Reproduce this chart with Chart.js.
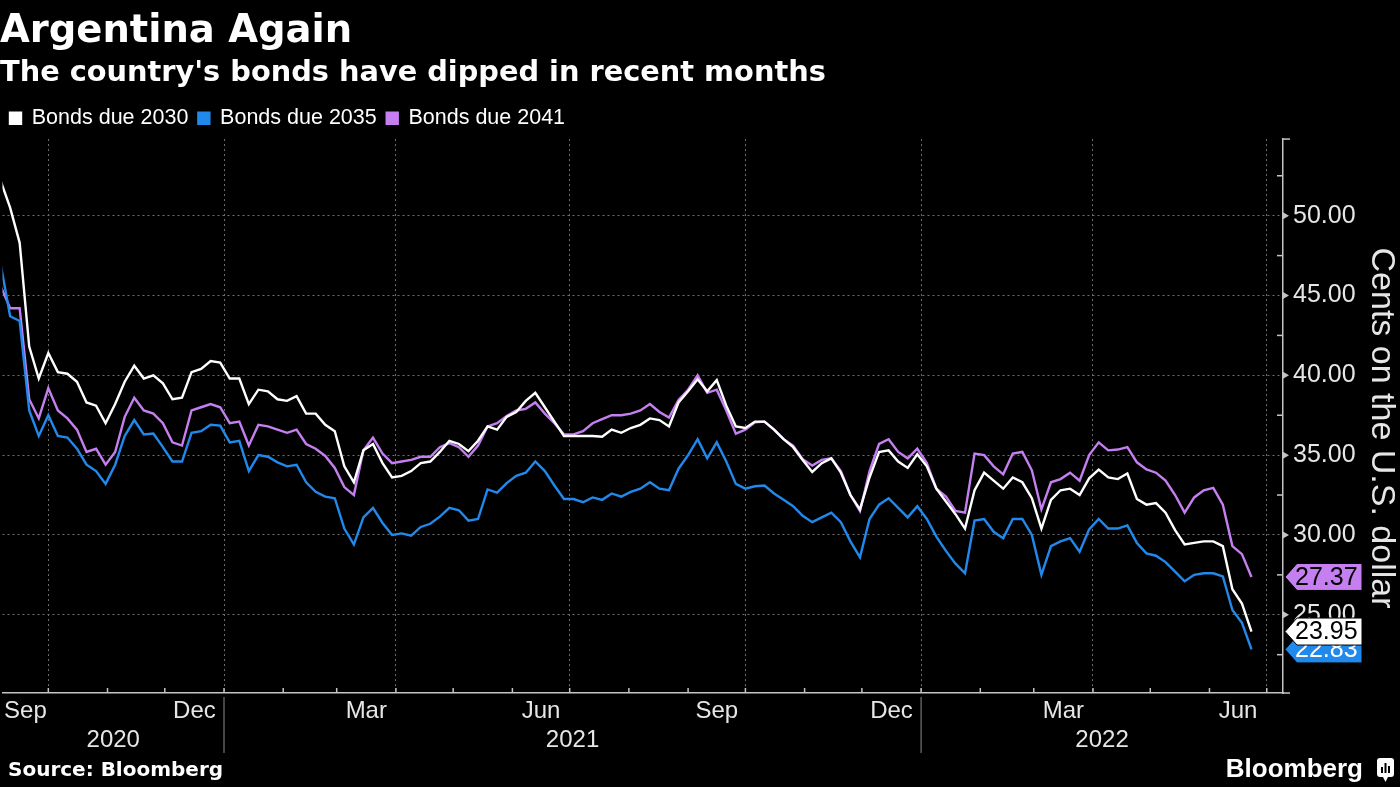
<!DOCTYPE html>
<html>
<head>
<meta charset="utf-8">
<title>Argentina Again</title>
<script src="https://cdn.jsdelivr.net/npm/chart.js@4.4.1/dist/chart.umd.min.js"></script>
<style>
  html, body { margin: 0; padding: 0; background: #000; }
  #wrap { width: 1400px; height: 787px; }
</style>
</head>
<body>
<div id="wrap"><canvas id="bonds" width="1400" height="787"></canvas></div>
<script>
const dates = [
  '2020-09-06','2020-09-11','2020-09-16','2020-09-21','2020-09-26',
  '2020-10-01','2020-10-06','2020-10-11','2020-10-16','2020-10-21','2020-10-26','2020-10-31',
  '2020-11-05','2020-11-10','2020-11-15','2020-11-20','2020-11-25','2020-11-30',
  '2020-12-05','2020-12-10','2020-12-15','2020-12-20','2020-12-25','2020-12-30',
  '2021-01-04','2021-01-09','2021-01-14','2021-01-19','2021-01-24','2021-01-29',
  '2021-02-03','2021-02-08','2021-02-13','2021-02-18','2021-02-23','2021-02-28',
  '2021-03-05','2021-03-10','2021-03-15','2021-03-20','2021-03-25','2021-03-30',
  '2021-04-04','2021-04-09','2021-04-14','2021-04-19','2021-04-24','2021-04-29',
  '2021-05-04','2021-05-09','2021-05-14','2021-05-19','2021-05-24','2021-05-29',
  '2021-06-03','2021-06-08','2021-06-13','2021-06-18','2021-06-23','2021-06-28',
  '2021-07-03','2021-07-08','2021-07-13','2021-07-18','2021-07-23','2021-07-28',
  '2021-08-02','2021-08-07','2021-08-12','2021-08-17','2021-08-22','2021-08-27',
  '2021-09-01','2021-09-06','2021-09-11','2021-09-16','2021-09-21','2021-09-26',
  '2021-10-01','2021-10-06','2021-10-11','2021-10-16','2021-10-21','2021-10-26','2021-10-31',
  '2021-11-05','2021-11-10','2021-11-15','2021-11-20','2021-11-25','2021-11-30',
  '2021-12-05','2021-12-10','2021-12-15','2021-12-20','2021-12-25','2021-12-30',
  '2022-01-04','2022-01-09','2022-01-14','2022-01-19','2022-01-24','2022-01-29',
  '2022-02-03','2022-02-08','2022-02-13','2022-02-18','2022-02-23','2022-02-28',
  '2022-03-05','2022-03-10','2022-03-15','2022-03-20','2022-03-25','2022-03-30',
  '2022-04-04','2022-04-09','2022-04-14','2022-04-19','2022-04-24','2022-04-29',
  '2022-05-04','2022-05-09','2022-05-14','2022-05-19','2022-05-24','2022-05-29',
  '2022-06-03','2022-06-08','2022-06-13','2022-06-18','2022-06-23'
];

const bonds2030 = [
  52.2, 50.5, 48.3, 41.8, 39.8, 41.4, 40.2, 40.1, 39.6, 38.3, 38.1, 37.0,
  38.2, 39.6, 40.6, 39.8, 40.0, 39.5, 38.5, 38.6, 40.2, 40.4, 40.9, 40.8,
  39.8, 39.8, 38.2, 39.1, 39.0, 38.5, 38.4, 38.7, 37.6, 37.6, 36.9, 36.5,
  34.3, 33.3, 35.3, 35.7, 34.5, 33.6, 33.7, 34.0, 34.5, 34.6, 35.2, 35.9,
  35.7, 35.25, 35.9, 36.8, 36.6, 37.4, 37.7, 38.4, 38.9, 38.0, 37.1, 36.2,
  36.2, 36.2, 36.2, 36.15, 36.6, 36.4, 36.7, 36.9, 37.3, 37.2, 36.8, 38.3,
  39.0, 39.75, 39.0, 39.7, 38.1, 36.8, 36.7, 37.1, 37.1, 36.6, 36.0, 35.5,
  34.7, 33.95, 34.5, 34.8, 33.9, 32.5, 31.6, 33.6, 35.2, 35.3, 34.6, 34.2,
  35.05, 34.3, 32.9, 32.1, 31.3, 30.4, 32.8, 33.9, 33.4, 32.9, 33.6, 33.3,
  32.3, 30.4, 32.2, 32.8, 32.9, 32.5, 33.55, 34.1, 33.6, 33.5, 33.85, 32.25,
  31.9, 32.0, 31.4, 30.3, 29.4, 29.5, 29.6, 29.6, 29.3, 26.6, 25.7, 23.95
];

const bonds2035 = [
  47.0, 43.7, 43.4, 37.8, 36.2, 37.5, 36.2, 36.1, 35.4, 34.4, 34.0, 33.2,
  34.4, 36.2, 37.2, 36.3, 36.35, 35.5, 34.6, 34.6, 36.4, 36.5, 36.9, 36.85,
  35.8, 35.9, 34.0, 35.0, 34.9, 34.55, 34.3, 34.4, 33.3, 32.7, 32.4, 32.3,
  30.4, 29.4, 31.1, 31.7, 30.75, 30.0, 30.1, 29.95, 30.5, 30.7, 31.15, 31.7,
  31.55, 30.9, 31.0, 32.85, 32.65, 33.25, 33.7, 33.9, 34.6, 34.0, 33.1, 32.25,
  32.25, 32.05, 32.35, 32.2, 32.6, 32.4, 32.7, 32.9, 33.3, 32.9, 32.8, 34.15,
  35.0, 36.0, 34.8, 35.8, 34.6, 33.2, 32.9, 33.05, 33.1, 32.6, 32.2, 31.8,
  31.2, 30.8, 31.1, 31.4, 30.8, 29.6, 28.6, 31.0, 31.9, 32.3, 31.7, 31.1,
  31.8, 31.0, 29.9, 29.0, 28.2, 27.6, 30.9, 31.0, 30.2, 29.8, 31.0, 31.0,
  30.0, 27.5, 29.3, 29.6, 29.8, 28.95, 30.35, 31.0, 30.4, 30.4, 30.6, 29.5,
  28.85, 28.7, 28.3, 27.7, 27.1, 27.5, 27.6, 27.6, 27.4, 25.3, 24.5, 22.83
];

const bonds2041 = [
  45.6, 44.2, 44.2, 38.5, 37.3, 39.2, 37.8, 37.3, 36.6, 35.2, 35.4, 34.4,
  35.2, 37.4, 38.6, 37.8, 37.6, 37.0, 35.8, 35.6, 37.8, 38.0, 38.2, 38.0,
  37.0, 37.1, 35.6, 36.9, 36.8, 36.6, 36.4, 36.6, 35.7, 35.4, 34.95, 34.2,
  33.0, 32.5, 35.3, 36.1, 35.1, 34.5, 34.6, 34.7, 34.9, 34.9, 35.5, 35.75,
  35.5, 34.9, 35.6, 36.8, 37.0, 37.45, 37.8, 37.9, 38.3, 37.6, 37.0, 36.3,
  36.3, 36.5, 37.0, 37.25, 37.5, 37.5, 37.6, 37.8, 38.2, 37.7, 37.35, 38.45,
  39.1, 40.0, 38.9, 39.1, 37.8, 36.35, 36.6, 37.05, 37.1, 36.6, 36.0, 35.6,
  34.75, 34.35, 34.7, 34.8, 34.0, 32.5, 31.5, 34.0, 35.7, 36.0, 35.2, 34.8,
  35.4, 34.5, 32.9, 32.4, 31.5, 31.4, 35.1, 35.0, 34.3, 33.8, 35.1, 35.2,
  34.05, 31.6, 33.3, 33.5, 33.9, 33.4, 35.0, 35.8, 35.3, 35.35, 35.5, 34.55,
  34.1, 33.9, 33.4, 32.5, 31.4, 32.35, 32.8, 32.95, 31.9, 29.3, 28.8, 27.37
];

const seriesNames = ['Bonds due 2030', 'Bonds due 2035', 'Bonds due 2041'];
const seriesColors = ['#ffffff', '#2189eb', '#c57ff0'];
const yTicks = [22.5, 25, 27.5, 30, 32.5, 35, 37.5, 40, 42.5, 45, 47.5, 50, 52.5];
const monthLabels = [[2020, 8, 'Sep'], [2020, 11, 'Dec'], [2021, 2, 'Mar'], [2021, 5, 'Jun'],
                     [2021, 8, 'Sep'], [2021, 11, 'Dec'], [2022, 2, 'Mar'], [2022, 5, 'Jun']];
const yearLabels = [2020, 2021, 2022];
const yTitle = 'Cents on the U.S. dollar';

const DAY = 864e5;
const toDay = s => Date.parse(s) / DAY;
const xMin = toDay('2020-09-07');
const xMax = toDay('2022-07-09') + 0.5;
const sans = '"Liberation Sans", Arial, sans-serif';
const bold = '"DejaVu Sans", sans-serif';

// month boundaries inside the axis range
const monthStarts = [];
for (let y = 2020, m = 9; Date.UTC(y, m, 1) / DAY <= xMax; m++) {
  if (m > 11) { m = 0; y++; }
  monthStarts.push(Date.UTC(y, m, 1) / DAY);
}
const isQuarter = v => new Date(v * DAY).getUTCMonth() % 3 === 0;

// month / year labels sit in the middle of the visible span
const span = (a, b) => (Math.max(a, xMin) + Math.min(b, xMax)) / 2;
const monthTicks = monthLabels.map(([y, m, name]) => ({
  value: span(Date.UTC(y, m, 1) / DAY, Date.UTC(y, m + 1, 1) / DAY), name
}));
const yearTicks = yearLabels.map(y => ({
  value: span(Date.UTC(y, 0, 1) / DAY, Date.UTC(y + 1, 0, 1) / DAY), name: String(y)
}));

const seriesValues = [bonds2030, bonds2035, bonds2041];
const datasets = seriesValues.map((vals, i) => ({
  label: seriesNames[i],
  data: vals.map((v, j) => ({ x: toDay(dates[j]), y: v })),
  borderColor: seriesColors[i],
  backgroundColor: seriesColors[i],
  borderWidth: 2.4,
  pointRadius: 0,
  tension: 0
}));

const decor = {
  id: 'decor',
  afterDraw(chart) {
    const { ctx, chartArea: a, scales } = chart;
    const xs = scales.x, ys = scales.y;
    const line = (x1, y1, x2, y2) => { ctx.beginPath(); ctx.moveTo(x1, y1); ctx.lineTo(x2, y2); ctx.stroke(); };
    ctx.save();
    ctx.strokeStyle = '#c4c4c4';
    ctx.fillStyle = '#c4c4c4';
    ctx.lineWidth = 1.5;

    monthStarts.forEach(v => {
      const px = xs.getPixelForValue(v);
      line(px, a.bottom, px, a.bottom - 5);
    });
    yTicks.forEach(v => {
      const py = ys.getPixelForValue(v);
      if (v % 5 === 0) {
        ctx.beginPath();
        ctx.moveTo(a.right, py - 3.5); ctx.lineTo(a.right + 6, py); ctx.lineTo(a.right, py + 3.5);
        ctx.closePath(); ctx.fill();
      } else {
        line(a.right - 6, py, a.right, py);
      }
    });
    line(a.right, a.top, a.right + 7, a.top);
    line(a.right, a.bottom, a.right + 7, a.bottom);

    ctx.strokeStyle = '#8a8a8a';
    ctx.lineWidth = 1;
    [2021, 2022].forEach(y => {
      const px = xs.getPixelForValue(Date.UTC(y, 0, 1) / DAY);
      line(px, a.bottom + 4, px, a.bottom + 60);
    });

    // axis title, reading downwards
    ctx.save();
    ctx.translate(1381, 428);
    ctx.rotate(Math.PI / 2);
    ctx.fillStyle = '#e6e6e6';
    ctx.font = '34px ' + sans;
    ctx.textAlign = 'center';
    ctx.textBaseline = 'middle';
    ctx.fillText(yTitle, 0, 0);
    ctx.restore();

    // last-value tags
    const tags = [[1, '#ffffff'], [0, '#000000'], [2, '#000000']];
    ctx.font = '25px ' + sans;
    ctx.textBaseline = 'middle';
    ctx.textAlign = 'left';
    tags.forEach(([i, txt]) => {
      const vals = seriesValues[i];
      const v = vals[vals.length - 1];
      const py = ys.getPixelForValue(v);
      const x0 = a.right + 2, h = 27;
      ctx.beginPath();
      ctx.moveTo(x0, py);
      ctx.lineTo(x0 + 12, py - h / 2);
      ctx.lineTo(1362, py - h / 2);
      ctx.lineTo(1362, py + h / 2);
      ctx.lineTo(x0 + 12, py + h / 2);
      ctx.closePath();
      ctx.fillStyle = seriesColors[i];
      ctx.fill();
      ctx.strokeStyle = '#000';
      ctx.lineWidth = 1;
      ctx.stroke();
      ctx.fillStyle = txt;
      ctx.fillText(v.toFixed(2), x0 + 10, py + 1);
    });

    // footer
    ctx.fillStyle = '#ffffff';
    ctx.font = 'bold 20px ' + bold;
    ctx.fillText('Source: Bloomberg', 8, 771);
    ctx.font = 'bold 26px ' + sans;
    ctx.textAlign = 'right';
    ctx.fillText('Bloomberg', 1363, 770);
    ctx.beginPath();
    ctx.roundRect(1377, 758, 17, 19, 3);
    ctx.fill();
    ctx.beginPath();
    ctx.moveTo(1383, 777); ctx.lineTo(1385.5, 782); ctx.lineTo(1388, 777);
    ctx.fill();
    ctx.fillStyle = '#000';
    ctx.fillRect(1381, 767, 2, 6);
    ctx.fillRect(1384.5, 763, 2, 10);
    ctx.fillRect(1388, 766, 2, 7);
    ctx.restore();
  }
};

new Chart(document.getElementById('bonds'), {
  type: 'line',
  data: { datasets },
  plugins: [decor],
  options: {
    responsive: false,
    animation: false,
    layout: { padding: { left: 0, right: 0, top: 0, bottom: 34 } },
    plugins: {
      title: {
        display: true, text: 'Argentina Again', align: 'start', color: '#ffffff',
        font: { family: bold, size: 38.5, weight: 'bold', lineHeight: 1.2 },
        padding: { top: 9, bottom: 0 }
      },
      subtitle: {
        display: true, text: "The country's bonds have dipped in recent months", align: 'start', color: '#ffffff',
        font: { family: bold, size: 28.8, weight: 'bold', lineHeight: 1.2 },
        padding: { top: 1.4, bottom: 6.4 }
      },
      legend: {
        display: true, position: 'top', align: 'start',
        labels: { color: '#ffffff', boxWidth: 11, boxHeight: 11, padding: 10, font: { family: sans, size: 21.5 } }
      },
      tooltip: { enabled: false }
    },
    scales: {
      x: {
        type: 'linear', position: 'bottom', min: xMin, max: xMax, bounds: 'data', weight: 0,
        afterBuildTicks: s => { s.ticks = monthStarts.map(v => ({ value: v })); },
        afterFit: s => { s.height = 0; },
        ticks: { display: false },
        grid: { drawTicks: false, lineWidth: 1, color: c => (c.tick && isQuarter(c.tick.value)) ? '#6e6e6e' : 'transparent' },
        border: { display: true, color: '#c4c4c4', width: 1.5, dash: [2, 3] }
      },
      months: {
        type: 'linear', position: 'bottom', min: xMin, max: xMax, bounds: 'data', weight: 1,
        afterBuildTicks: s => { s.ticks = monthTicks.map(t => ({ value: t.value })); },
        afterFit: s => { s.height = 30; },
        ticks: { autoSkip: false, maxRotation: 0, padding: 4, color: '#e6e6e6',
                 font: { family: sans, size: 24 }, callback: (v, i) => monthTicks[i].name },
        grid: { display: false, drawTicks: false },
        border: { display: false }
      },
      years: {
        type: 'linear', position: 'bottom', min: xMin, max: xMax, bounds: 'data', weight: 2,
        afterBuildTicks: s => { s.ticks = yearTicks.map(t => ({ value: t.value })); },
        afterFit: s => { s.height = 30; },
        ticks: { autoSkip: false, maxRotation: 0, padding: 3, color: '#e6e6e6',
                 font: { family: sans, size: 24 }, callback: (v, i) => yearTicks[i].name },
        grid: { display: false, drawTicks: false },
        border: { display: false }
      },
      y: {
        position: 'right', min: 20.1, max: 54.8, bounds: 'data',
        afterBuildTicks: s => { s.ticks = yTicks.map(v => ({ value: v })); },
        afterFit: s => { s.width = 117; },
        ticks: { padding: 10, color: '#e6e6e6', font: { family: sans, size: 25 },
                 callback: v => (v % 5 === 0 ? v.toFixed(2) : '') },
        grid: { drawTicks: false, lineWidth: 1, color: c => (c.tick && c.tick.value % 5 === 0) ? '#6e6e6e' : 'transparent' },
        border: { display: true, color: '#c4c4c4', width: 1.5, dash: [2, 3] }
      }
    }
  }
});
</script>
</body>
</html>
